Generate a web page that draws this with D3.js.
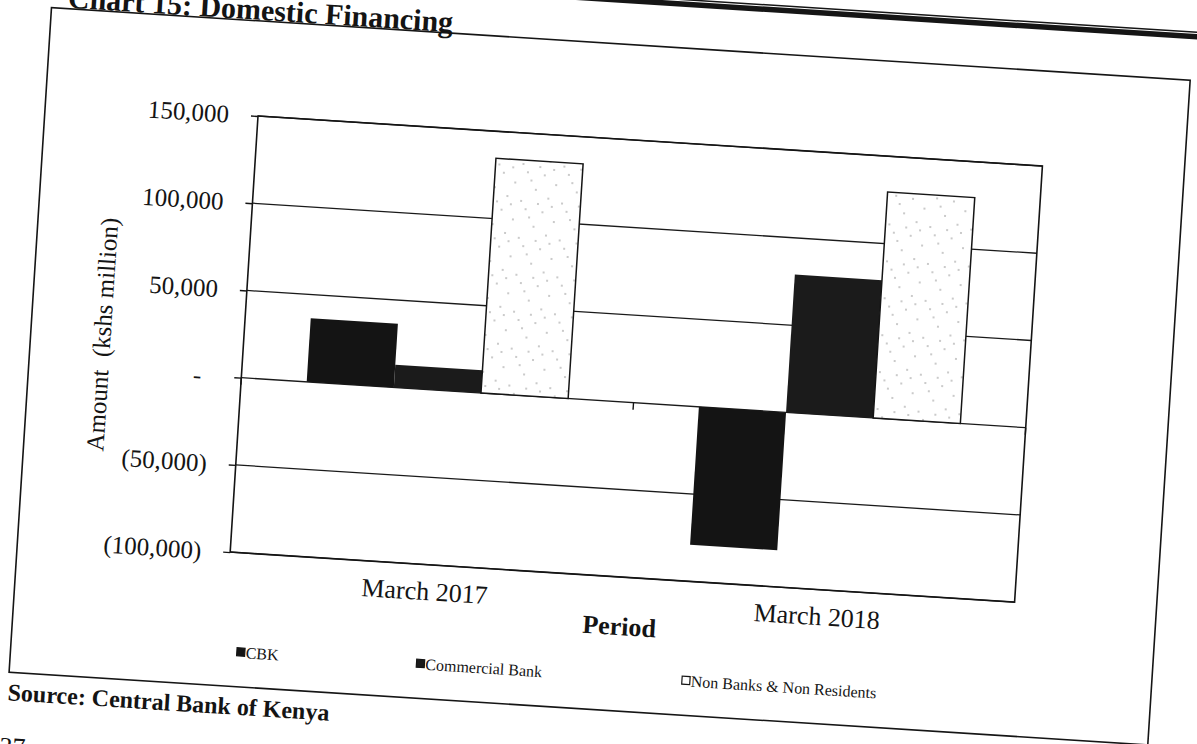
<!DOCTYPE html>
<html>
<head>
<meta charset="utf-8">
<script src="https://cdnjs.cloudflare.com/ajax/libs/d3/7.8.5/d3.min.js"></script>
<style>
  html, body { margin: 0; padding: 0; background: #fff; }
  svg { display: block; }
  text { font-family: "Liberation Serif", "Times New Roman", serif; fill: #141414; }
</style>
</head>
<body>
<div id="chart"></div>
<script>
// Chart 15: Domestic Financing - scanned page, so the whole chart sits a little rotated
const categories = ["March 2017", "March 2018"];
const seriesNames = ["CBK", "Commercial Bank", "Non Banks & Non Residents"];
const cbkValues = [36500, -79000];
const commercialBankValues = [13000, 79000];
const nonBanksValues = [134500, 129500];
const yTickValues = [150000, 100000, 50000, 0, -50000, -100000];
const yTickLabels = ["150,000", "100,000", "50,000", "-", "(50,000)", "(100,000)"];

const pageWidth = 1197, pageHeight = 744;
const plotWidth = 786, plotHeight = 437;
const tilt = 3.65;                    // degrees, clockwise
const origin = { x: 258, y: 116 };    // plot top-left on the page
const legendX = [13, 193, 459];

const fills = ["#141414", "#1b1b1b", "url(#speckle)"];

const table = seriesNames.map((name, i) => ({
    name,
    values: [cbkValues, commercialBankValues, nonBanksValues][i]
}));

const svg = d3.select("#chart")
    .append("svg")
    .attr("width", pageWidth)
    .attr("height", pageHeight);

svg.append("rect").attr("width", pageWidth).attr("height", pageHeight).attr("fill", "#fff");

// sparse stipple for the Non Banks bars
const pattern = svg.append("defs").append("pattern")
    .attr("id", "speckle")
    .attr("patternUnits", "userSpaceOnUse")
    .attr("width", 41).attr("height", 37);
pattern.append("rect").attr("width", 41).attr("height", 37).attr("fill", "#fff");
[[3, 4], [27, 2], [15, 13], [36, 19], [8, 27], [22, 31], [31, 10], [12, 35], [39, 33]].forEach(([cx, cy]) =>
    pattern.append("circle").attr("cx", cx).attr("cy", cy).attr("r", 0.75).attr("fill", "#7a7a7a"));

const g = svg.append("g")
    .attr("transform", `translate(${origin.x},${origin.y}) rotate(${tilt})`);

// page heading rule + title (cut by the top of the scan)
g.append("line")
    .attr("x1", 230).attr("x2", 1150).attr("y1", -140).attr("y2", -140)
    .attr("stroke", "#151515").attr("stroke-width", 8);
g.append("line")
    .attr("x1", 230).attr("x2", 1150).attr("y1", -142).attr("y2", -142)
    .attr("stroke", "#fff").attr("stroke-width", 1);
g.append("text")
    .attr("x", -197).attr("y", -96)
    .attr("font-weight", "bold")
    .style("font-size", "30px")
    .text("Chart 15: Domestic Financing");

// outer chart box
g.append("rect")
    .attr("x", -213).attr("y", -95)
    .attr("width", 1141).attr("height", 666)
    .attr("fill", "none").attr("stroke", "#151515").attr("stroke-width", 1.6);

// scales
const x0 = d3.scaleBand()
    .domain(categories)
    .range([0, plotWidth])
    .paddingInner(1 / 3)
    .paddingOuter(1 / 6);
const x1 = d3.scaleBand()
    .domain(seriesNames)
    .range([0, x0.bandwidth()]);
const y = d3.scaleLinear()
    .domain([-100000, 150000])
    .range([plotHeight, 0]);

// gridlines
g.append("g")
    .selectAll("line")
    .data(yTickValues)
    .join("line")
    .attr("x1", 0).attr("x2", plotWidth)
    .attr("y1", d => y(d)).attr("y2", d => y(d))
    .attr("stroke", "#1a1a1a").attr("stroke-width", 1.3);

// bars
const groups = g.append("g")
    .selectAll("g")
    .data(table)
    .join("g")
    .attr("fill", (d, i) => fills[i])
    .attr("stroke", (d, i) => i === 2 ? "#151515" : "none")
    .attr("stroke-width", 1.5);

groups.selectAll("rect")
    .data(d => d.values.map((v, j) => ({ name: d.name, cat: categories[j], value: v })))
    .join("rect")
    .attr("x", d => x0(d.cat) + x1(d.name))
    .attr("y", d => y(Math.max(0, d.value)))
    .attr("width", x1.bandwidth())
    .attr("height", d => Math.abs(y(d.value) - y(0)));

// plot border
g.append("rect")
    .attr("width", plotWidth).attr("height", plotHeight)
    .attr("fill", "none").attr("stroke", "#141414").attr("stroke-width", 1.6);

// category axis ticks on the zero line
const boundaries = [0]
    .concat(categories.slice(1).map(c => x0(c) - x0.step() * x0.paddingInner() / 2))
    .concat([plotWidth]);
g.append("g")
    .selectAll("line")
    .data(boundaries)
    .join("line")
    .attr("x1", d => d).attr("x2", d => d)
    .attr("y1", y(0)).attr("y2", y(0) + 7)
    .attr("stroke", "#141414").attr("stroke-width", 1.4);

// category labels
const xAxis = g.append("g")
    .attr("transform", `translate(0,${plotHeight})`)
    .call(d3.axisBottom(x0).tickSize(0).tickPadding(17));
xAxis.select(".domain").remove();
xAxis.selectAll("text").style("font-size", "26px").attr("fill", "#141414");

// y axis
const yAxis = g.append("g")
    .call(d3.axisLeft(y)
        .tickValues(yTickValues)
        .tickFormat((d, i) => yTickLabels[i])
        .tickSize(7)
        .tickPadding(22));
yAxis.select(".domain").remove();
yAxis.selectAll("line").attr("stroke", "#141414").attr("stroke-width", 1.4);
yAxis.selectAll("text").style("font-size", "25px").attr("fill", "#141414");
yAxis.selectAll(".tick").filter(d => d === 0).select("text").attr("x", -40);

// axis titles
g.append("text")
    .attr("transform", `translate(-133,228) rotate(-90)`)
    .attr("text-anchor", "middle")
    .style("font-size", "25px")
    .style("white-space", "pre")
    .text("Amount  (kshs million)");

g.append("text")
    .attr("x", plotWidth / 2).attr("y", 495)
    .attr("text-anchor", "middle")
    .attr("font-weight", "bold")
    .style("font-size", "26px")
    .text("Period");

// legend
const legend = g.append("g")
    .selectAll("g")
    .data(seriesNames)
    .join("g")
    .attr("transform", (d, i) => `translate(${legendX[i]},536)`);
legend.append("rect")
    .attr("x", 0).attr("y", -4)
    .attr("width", 8).attr("height", 8)
    .attr("fill", (d, i) => i === 2 ? "#fff" : fills[i])
    .attr("stroke", "#141414").attr("stroke-width", 1.2);
legend.append("text")
    .attr("x", 9).attr("y", 6)
    .style("font-size", "16px")
    .text(d => d);

// source + page number
g.append("text")
    .attr("x", -213).attr("y", 599)
    .attr("font-weight", "bold")
    .style("font-size", "24px")
    .text("Source: Central Bank of Kenya");

g.append("text")
    .attr("x", -218).attr("y", 654)
    .style("font-size", "26px")
    .text("37");
</script>
</body>
</html>
